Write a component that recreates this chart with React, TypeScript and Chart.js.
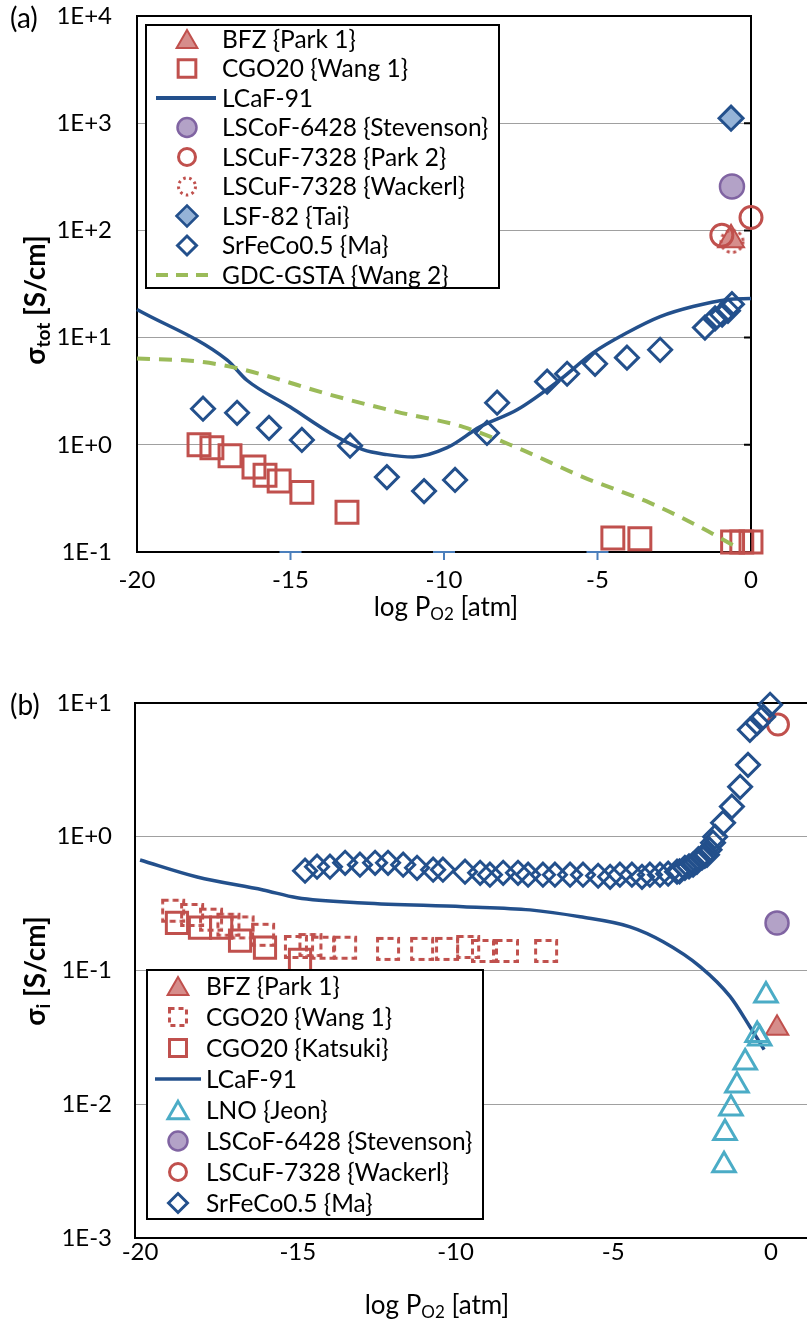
import React, { useEffect, useRef } from 'react';
import { Chart, registerables } from 'chart.js';

Chart.register(...registerables);

const FONT = 'Lato, "Open Sans", "DejaVu Sans", sans-serif';
const RED = '#C0504D';
const RED_FILL = 'rgba(204,112,110,0.8)';
const BLUE = '#23508C';
const LSF_FILL = '#95B3D7';
const PURPLE = '#8064A2';
const PURPLE_FILL = '#B3A2C7';
const GREEN = '#9BBB59';
const CYAN = '#4BACC6';
const GRID = '#A0A0A0';

// ---------------- Panel (a): total conductivity ----------------
const aTicksY = [0.1, 1, 10, 100, 1000, 10000];
const aTicksX = [-20, -15, -10, -5, 0];

const aBfzX = [-0.65];
const aBfzY = [82];

const aCgoWangX = [-17.98, -17.56, -16.97, -16.19, -15.83, -15.37, -14.63, -13.16, -4.5, -3.62, -0.6, -0.3, 0.0];
const aCgoWangY = [1.0, 0.94, 0.79, 0.62, 0.52, 0.46, 0.36, 0.235, 0.135, 0.133, 0.124, 0.124, 0.124];

const aLcafX = [-20, -17.07, -16.42, -15.02, -13.71, -12.64, -11.86, -11.01, -9.9, -8.83, -7.62, -6.22, -5.15, -4.04, -2.96, -1.89, -0.78, 0];
const aLcafY = [18.3, 6.2, 4.0, 2.26, 1.29, 0.9, 0.81, 0.77, 0.94, 1.47, 2.12, 4.05, 7.2, 11.1, 15.7, 19.5, 22.6, 23.1];

const aLscofX = [-0.62];
const aLscofY = [257];

const aLscufParkX = [-0.95, 0.0];
const aLscufParkY = [90, 132];

const aLscufWackerlX = [-0.62];
const aLscufWackerlY = [79];

const aLsfX = [-0.65];
const aLsfY = [1113];

const aSrfecoX = [-17.85, -16.74, -15.7, -14.63, -13.06, -11.86, -10.65, -9.64, -8.6, -8.27, -6.64, -5.99, -5.08, -4.04, -2.96, -1.5, -1.17, -0.94, -0.75, -0.62];
const aSrfecoY = [2.17, 1.99, 1.44, 1.11, 0.98, 0.5, 0.37, 0.47, 1.29, 2.47, 3.88, 4.6, 5.7, 6.5, 7.7, 12.4, 15.1, 16.4, 17.8, 20.5];

const aGdcX = [-20, -18.05, -16.97, -15.9, -13.71, -11.53, -9.38, -7.62, -5.47, -3.29, -1.66, -0.59];
const aGdcY = [6.4, 6.0, 5.36, 4.5, 2.93, 2.03, 1.47, 0.94, 0.5, 0.287, 0.171, 0.116];

// ---------------- Panel (b): ionic conductivity ----------------
const bTicksY = [0.001, 0.01, 0.1, 1, 10];
const bTicksX = [-20, -15, -10, -5, 0];

const bBfzX = [0.19];
const bBfzY = [0.037];

const bCgoWangX = [-18.95, -18.35, -17.75, -17.2, -16.75, -16.1, -15.06, -14.6, -14.2, -13.5, -12.14, -11.06, -10.27, -9.6, -9.13, -8.37, -7.13];
const bCgoWangY = [0.28, 0.26, 0.24, 0.22, 0.21, 0.185, 0.15, 0.155, 0.148, 0.148, 0.145, 0.145, 0.145, 0.15, 0.14, 0.14, 0.14];

const bCgoKatsukiX = [-18.83, -18.1, -17.43, -16.83, -16.04, -14.93];
const bCgoKatsukiY = [0.227, 0.209, 0.209, 0.167, 0.148, 0.12];

const bLcafX = [-20, -18.19, -16.1, -15.02, -12.93, -9.76, -7.64, -6.05, -4.47, -3.42, -2.25, -1.3, -0.67, -0.22];
const bLcafY = [0.67, 0.5, 0.4, 0.35, 0.32, 0.3, 0.284, 0.252, 0.212, 0.164, 0.107, 0.064, 0.038, 0.0256];

const bLnoX = [-0.16, -0.44, -0.36, -0.82, -1.08, -1.27, -1.46, -1.49];
const bLnoY = [0.065, 0.033, 0.031, 0.0205, 0.0138, 0.0093, 0.0061, 0.0035];

const bLscofX = [0.19];
const bLscofY = [0.227];

const bLscufWackerlX = [0.22];
const bLscufWackerlY = [6.9];

const bSrfecoX = [-14.77, -14.39, -13.98, -13.5, -13.03, -12.55, -12.14, -11.66, -11.22, -10.71, -10.4, -9.7, -9.22, -8.91, -8.49, -8.02, -7.7, -7.23, -6.85, -6.37, -5.96, -5.48, -5.1, -4.79, -4.41, -4.09, -3.84, -3.52, -3.26, -2.98, -2.9, -2.73, -2.6, -2.47, -2.35, -2.3, -2.19, -2.1, -2.03, -1.95, -1.84, -1.77, -1.52, -1.24, -0.98, -0.73, -0.67, -0.44, -0.25, -0.03];
const bSrfecoY = [0.557, 0.597, 0.597, 0.639, 0.618, 0.639, 0.639, 0.618, 0.586, 0.567, 0.567, 0.548, 0.538, 0.52, 0.538, 0.538, 0.52, 0.52, 0.52, 0.52, 0.52, 0.511, 0.502, 0.52, 0.52, 0.502, 0.52, 0.52, 0.529, 0.548, 0.55, 0.586, 0.6, 0.618, 0.65, 0.68, 0.697, 0.72, 0.733, 0.8, 0.902, 1.0, 1.27, 1.68, 2.36, 3.45, 6.3, 7.1, 7.9, 9.7];

// ---------------- helpers ----------------
const zip = (xs: number[], ys: number[]) => xs.map((x, i) => ({ x, y: ys[i] }));

function decadeLabel(v: number) {
  const e = Math.round(Math.log10(v));
  return '1E' + (e >= 0 ? '+' : '') + e;
}

function makeDashedSquare(side: number, lw: number, color: string, dash: number[]) {
  const c = document.createElement('canvas');
  const s = Math.ceil(side + lw + 2);
  c.width = s;
  c.height = s;
  const g = c.getContext('2d')!;
  g.strokeStyle = color;
  g.lineWidth = lw;
  g.setLineDash(dash);
  g.strokeRect((s - side) / 2, (s - side) / 2, side, side);
  return c;
}

function makeDottedCircle(r: number, lw: number, color: string, dash: number[]) {
  const c = document.createElement('canvas');
  const s = Math.ceil(2 * r + lw + 2);
  c.width = s;
  c.height = s;
  const g = c.getContext('2d')!;
  g.strokeStyle = color;
  g.lineWidth = lw;
  g.setLineDash(dash);
  g.beginPath();
  g.arc(s / 2, s / 2, r, 0, Math.PI * 2);
  g.stroke();
  return c;
}

type Part = { t: string; size: number; bold?: boolean; dy?: number };
function drawRich(ctx: CanvasRenderingContext2D, parts: Part[], cx: number, cy: number) {
  ctx.save();
  ctx.textBaseline = 'alphabetic';
  ctx.textAlign = 'left';
  ctx.fillStyle = '#000';
  const fontOf = (p: Part) => `${p.bold ? 'bold ' : ''}${p.size}px ${FONT}`;
  let total = 0;
  const widths = parts.map((p) => {
    ctx.font = fontOf(p);
    const w = ctx.measureText(p.t).width;
    total += w;
    return w;
  });
  let x = cx - total / 2;
  const base = cy + parts[0].size * 0.36;
  parts.forEach((p, i) => {
    ctx.font = fontOf(p);
    ctx.fillText(p.t, x, base + (p.dy || 0));
    x += widths[i];
  });
  ctx.restore();
}

type Entry = {
  label: string;
  kind: 'triangle' | 'rect' | 'rectRot' | 'circle' | 'line';
  stroke: string;
  fill?: string;
  lw: number;
  r?: number;
  dash?: number[];
};

function drawMarker(ctx: CanvasRenderingContext2D, e: Entry, x: number, y: number, lx1: number, lx2: number) {
  ctx.save();
  ctx.strokeStyle = e.stroke;
  ctx.lineWidth = e.lw;
  ctx.setLineDash(e.dash || []);
  ctx.beginPath();
  const r = e.r || 0;
  if (e.kind === 'line') {
    ctx.moveTo(lx1, y);
    ctx.lineTo(lx2, y);
    ctx.stroke();
    ctx.restore();
    return;
  }
  if (e.kind === 'triangle') {
    const yy = y + 0.25 * r;
    ctx.moveTo(x, yy - r);
    ctx.lineTo(x + 0.866 * r, yy + 0.5 * r);
    ctx.lineTo(x - 0.866 * r, yy + 0.5 * r);
    ctx.closePath();
  } else if (e.kind === 'rect') {
    const h = r * Math.SQRT1_2;
    ctx.rect(x - h, y - h, 2 * h, 2 * h);
  } else if (e.kind === 'rectRot') {
    ctx.moveTo(x - r, y);
    ctx.lineTo(x, y - r);
    ctx.lineTo(x + r, y);
    ctx.lineTo(x, y + r);
    ctx.closePath();
  } else if (e.kind === 'circle') {
    ctx.arc(x, y, r, 0, Math.PI * 2);
  }
  if (e.fill) {
    ctx.fillStyle = e.fill;
    ctx.fill();
  }
  ctx.stroke();
  ctx.restore();
}

type LegendCfg = {
  box: { x: number; y: number; w: number; h: number };
  markerX: number;
  textX: number;
  lineX1: number;
  lineX2: number;
  rowY0: number;
  rowStep: number;
  fontSize: number;
  entries: Entry[];
};

function drawLegend(ctx: CanvasRenderingContext2D, L: LegendCfg) {
  ctx.save();
  ctx.fillStyle = '#fff';
  ctx.fillRect(L.box.x, L.box.y, L.box.w, L.box.h);
  ctx.strokeStyle = '#000';
  ctx.lineWidth = 2;
  ctx.strokeRect(L.box.x, L.box.y, L.box.w, L.box.h);
  L.entries.forEach((e, i) => {
    const y = L.rowY0 + i * L.rowStep;
    drawMarker(ctx, e, L.markerX, y, L.lineX1, L.lineX2);
    ctx.fillStyle = '#000';
    ctx.font = `${L.fontSize}px ${FONT}`;
    ctx.textBaseline = 'middle';
    ctx.textAlign = 'left';
    ctx.fillText(e.label, L.textX, y + 1);
  });
  ctx.restore();
}

const legendA: LegendCfg = {
  box: { x: 146, y: 25, w: 353, h: 263 },
  markerX: 187,
  textX: 222,
  lineX1: 156,
  lineX2: 216,
  rowY0: 39,
  rowStep: 29.5,
  fontSize: 24.5,
  entries: [
    { label: 'BFZ {Park 1}', kind: 'triangle', stroke: RED, fill: RED_FILL, lw: 2, r: 12 },
    { label: 'CGO20 {Wang 1}', kind: 'rect', stroke: RED, lw: 3, r: 12.5 },
    { label: 'LCaF-91', kind: 'line', stroke: BLUE, lw: 4 },
    { label: 'LSCoF-6428 {Stevenson}', kind: 'circle', stroke: PURPLE, fill: PURPLE_FILL, lw: 2.5, r: 9.5 },
    { label: 'LSCuF-7328 {Park 2}', kind: 'circle', stroke: RED, lw: 3, r: 8.5 },
    { label: 'LSCuF-7328 {Wackerl}', kind: 'circle', stroke: RED, lw: 3, r: 8.5, dash: [2.5, 3.5] },
    { label: 'LSF-82 {Tai}', kind: 'rectRot', stroke: BLUE, fill: LSF_FILL, lw: 2.5, r: 10.5 },
    { label: 'SrFeCo0.5 {Ma}', kind: 'rectRot', stroke: BLUE, lw: 3, r: 9.5 },
    { label: 'GDC-GSTA {Wang 2}', kind: 'line', stroke: GREEN, lw: 4, dash: [12, 8] },
  ],
};

const legendB: LegendCfg = {
  box: { x: 147, y: 310, w: 336, h: 249 },
  markerX: 178,
  textX: 206,
  lineX1: 155,
  lineX2: 201,
  rowY0: 326,
  rowStep: 31,
  fontSize: 24.5,
  entries: [
    { label: 'BFZ {Park 1}', kind: 'triangle', stroke: RED, fill: RED_FILL, lw: 2, r: 12 },
    { label: 'CGO20 {Wang 1}', kind: 'rect', stroke: RED, lw: 3, r: 12, dash: [5, 4] },
    { label: 'CGO20 {Katsuki}', kind: 'rect', stroke: RED, lw: 3, r: 12 },
    { label: 'LCaF-91', kind: 'line', stroke: BLUE, lw: 3.5 },
    { label: 'LNO {Jeon}', kind: 'triangle', stroke: CYAN, lw: 3, r: 11.5 },
    { label: 'LSCoF-6428 {Stevenson}', kind: 'circle', stroke: PURPLE, fill: PURPLE_FILL, lw: 2.5, r: 9.5 },
    { label: 'LSCuF-7328 {Wackerl}', kind: 'circle', stroke: RED, lw: 3, r: 8.5 },
    { label: 'SrFeCo0.5 {Ma}', kind: 'rectRot', stroke: BLUE, lw: 3, r: 9.5 },
  ],
};

const tickFont = { family: FONT, size: 24 };

function pointSet(label: string, data: any[], style: any, radius: number, stroke: string, fill: string, lw: number) {
  return {
    label,
    data,
    showLine: false,
    pointStyle: style,
    pointRadius: radius,
    pointHoverRadius: radius,
    pointBorderWidth: lw,
    pointBorderColor: stroke,
    pointBackgroundColor: fill,
    borderColor: stroke,
    backgroundColor: fill,
    clip: false as any,
  };
}

function lineSet(label: string, data: any[], color: string, width: number, dash?: number[]) {
  return {
    label,
    data,
    showLine: true,
    pointRadius: 0,
    borderColor: color,
    backgroundColor: color,
    borderWidth: width,
    borderDash: dash || [],
    cubicInterpolationMode: 'monotone' as const,
    clip: false as any,
  };
}

function withOrder(sets: any[]) {
  return sets.map((s, i) => ({ ...s, order: -i }));
}

function xFit(h: number) {
  return (s: any) => {
    s.height = h;
    s.paddingLeft = 0;
    s.paddingRight = 0;
  };
}

function yFit(w: number) {
  return (s: any) => {
    s.width = w;
    s.paddingTop = 0;
    s.paddingBottom = 0;
  };
}

export default function App() {
  const refA = useRef<HTMLCanvasElement>(null);
  const refB = useRef<HTMLCanvasElement>(null);

  useEffect(() => {
    const dottedCircle = makeDottedCircle(11, 3, RED, [3, 3.5]);
    const dashedSquare = makeDashedSquare(21, 3, RED, [6, 4]);

    const pluginA = {
      id: 'panelA',
      beforeDatasetsDraw(chart: any) {
        const ctx: CanvasRenderingContext2D = chart.ctx;
        const { left, right, top, bottom } = chart.chartArea;
        ctx.save();
        ctx.strokeStyle = '#000';
        ctx.lineWidth = 2;
        ctx.strokeRect(left, top, right - left, bottom - top);
        const ys = chart.scales.y;
        ctx.beginPath();
        aTicksY.forEach((v) => {
          const py = ys.getPixelForValue(v);
          ctx.moveTo(right - 7, py);
          ctx.lineTo(right, py);
        });
        ctx.stroke();
        const xs = chart.scales.x;
        ctx.strokeStyle = '#4A7EBB';
        ctx.lineWidth = 2;
        ctx.beginPath();
        [-15, -10, -5].forEach((v) => {
          const px = xs.getPixelForValue(v);
          ctx.moveTo(px - 11, bottom);
          ctx.lineTo(px + 11, bottom);
          ctx.moveTo(px, bottom);
          ctx.lineTo(px, bottom + 8);
        });
        ctx.stroke();
        ctx.restore();
      },
      afterDraw(chart: any) {
        const ctx: CanvasRenderingContext2D = chart.ctx;
        drawLegend(ctx, legendA);
        drawRich(ctx, [{ t: 'log P', size: 26 }, { t: 'O2', size: 17, dy: 4 }, { t: ' [atm]', size: 26 }], 446, 607);
        ctx.save();
        ctx.translate(35, 300);
        ctx.rotate(-Math.PI / 2);
        drawRich(ctx, [{ t: 'σ', size: 28, bold: true }, { t: 'tot', size: 19, bold: true, dy: 5 }, { t: ' [S/cm]', size: 28, bold: true }], 0, 0);
        ctx.restore();
        ctx.save();
        ctx.font = `28px ${FONT}`;
        ctx.fillStyle = '#000';
        ctx.textBaseline = 'middle';
        ctx.textAlign = 'left';
        ctx.fillText('(a)', 10, 19);
        ctx.restore();
      },
    };

    const pluginB = {
      id: 'panelB',
      beforeDatasetsDraw(chart: any) {
        const ctx: CanvasRenderingContext2D = chart.ctx;
        const { left, right, top, bottom } = chart.chartArea;
        ctx.save();
        ctx.strokeStyle = '#000';
        ctx.lineWidth = 2;
        ctx.beginPath();
        ctx.moveTo(right, top);
        ctx.lineTo(left, top);
        ctx.lineTo(left, bottom);
        ctx.lineTo(right, bottom);
        ctx.stroke();
        ctx.restore();
      },
      afterDraw(chart: any) {
        const ctx: CanvasRenderingContext2D = chart.ctx;
        drawLegend(ctx, legendB);
        drawRich(ctx, [{ t: 'log P', size: 26 }, { t: 'O2', size: 17, dy: 4 }, { t: ' [atm]', size: 26 }], 437, 645);
        ctx.save();
        ctx.translate(35, 311);
        ctx.rotate(-Math.PI / 2);
        drawRich(ctx, [{ t: 'σ', size: 28, bold: true }, { t: 'i', size: 19, bold: true, dy: 5 }, { t: ' [S/cm]', size: 28, bold: true }], 0, 0);
        ctx.restore();
        ctx.save();
        ctx.font = `28px ${FONT}`;
        ctx.fillStyle = '#000';
        ctx.textBaseline = 'middle';
        ctx.textAlign = 'left';
        ctx.fillText('(b)', 10, 46);
        ctx.restore();
      },
    };

    const datasetsA = withOrder([
      pointSet('BFZ {Park 1}', zip(aBfzX, aBfzY), 'triangle', 15, RED, RED_FILL, 2),
      pointSet('CGO20 {Wang 1}', zip(aCgoWangX, aCgoWangY), 'rect', 15.5, RED, 'rgba(0,0,0,0)', 3),
      lineSet('LCaF-91', zip(aLcafX, aLcafY), BLUE, 3.5),
      pointSet('LSCoF-6428 {Stevenson}', zip(aLscofX, aLscofY), 'circle', 12, PURPLE, PURPLE_FILL, 2.5),
      pointSet('LSCuF-7328 {Park 2}', zip(aLscufParkX, aLscufParkY), 'circle', 11, RED, 'rgba(0,0,0,0)', 3),
      pointSet('LSCuF-7328 {Wackerl}', zip(aLscufWackerlX, aLscufWackerlY), dottedCircle, 11, RED, 'rgba(0,0,0,0)', 3),
      pointSet('LSF-82 {Tai}', zip(aLsfX, aLsfY), 'rectRot', 12, BLUE, LSF_FILL, 3),
      pointSet('SrFeCo0.5 {Ma}', zip(aSrfecoX, aSrfecoY), 'rectRot', 11.5, BLUE, 'rgba(0,0,0,0)', 3),
      lineSet('GDC-GSTA {Wang 2}', zip(aGdcX, aGdcY), GREEN, 4, [13, 9]),
    ]);

    const datasetsB = withOrder([
      pointSet('BFZ {Park 1}', zip(bBfzX, bBfzY), 'triangle', 13, RED, RED_FILL, 2),
      pointSet('CGO20 {Wang 1}', zip(bCgoWangX, bCgoWangY), dashedSquare, 15, RED, 'rgba(0,0,0,0)', 3),
      pointSet('CGO20 {Katsuki}', zip(bCgoKatsukiX, bCgoKatsukiY), 'rect', 15, RED, 'rgba(0,0,0,0)', 3),
      lineSet('LCaF-91', zip(bLcafX, bLcafY), BLUE, 3.5),
      pointSet('LNO {Jeon}', zip(bLnoX, bLnoY), 'triangle', 13, CYAN, 'rgba(0,0,0,0)', 3),
      pointSet('LSCoF-6428 {Stevenson}', zip(bLscofX, bLscofY), 'circle', 11.5, PURPLE, PURPLE_FILL, 2.5),
      pointSet('LSCuF-7328 {Wackerl}', zip(bLscufWackerlX, bLscufWackerlY), 'circle', 10.5, RED, 'rgba(0,0,0,0)', 3),
      pointSet('SrFeCo0.5 {Ma}', zip(bSrfecoX, bSrfecoY), 'rectRot', 11.5, BLUE, 'rgba(0,0,0,0)', 3),
    ]);

    const common = {
      responsive: false,
      maintainAspectRatio: false,
      animation: false as const,
      events: [] as any[],
      plugins: { legend: { display: false }, tooltip: { enabled: false } },
    };

    const chartA = new Chart(refA.current!, {
      type: 'scatter',
      data: { datasets: datasetsA as any },
      options: {
        ...common,
        layout: { autoPadding: false, padding: { left: 0, right: 56, top: 16, bottom: 0 } },
        scales: {
          x: {
            type: 'linear',
            min: -20,
            max: 0,
            afterBuildTicks: (s: any) => { s.ticks = aTicksX.map((v) => ({ value: v })); },
            afterFit: xFit(108),
            ticks: { font: tickFont, color: '#000', padding: 14, autoSkip: false, maxRotation: 0, callback: (v: any) => String(v) },
            grid: { display: false, drawTicks: false },
            border: { display: false },
          },
          y: {
            type: 'logarithmic',
            min: 0.1,
            max: 10000,
            afterBuildTicks: (s: any) => { s.ticks = aTicksY.map((v) => ({ value: v })); },
            afterFit: yFit(137),
            ticks: { font: tickFont, color: '#000', padding: 25, autoSkip: false, callback: (v: any) => decadeLabel(Number(v)) },
            grid: { color: GRID, lineWidth: 1, drawTicks: false },
            border: { display: false },
          },
        },
      } as any,
      plugins: [pluginA],
    });

    const chartB = new Chart(refB.current!, {
      type: 'scatter',
      data: { datasets: datasetsB as any },
      options: {
        ...common,
        layout: { autoPadding: false, padding: { left: 0, right: 0, top: 43, bottom: 0 } },
        scales: {
          x: {
            type: 'linear',
            min: -20.16,
            max: 1.14,
            afterBuildTicks: (s: any) => { s.ticks = bTicksX.map((v) => ({ value: v })); },
            afterFit: xFit(93),
            ticks: { font: tickFont, color: '#000', padding: 0, autoSkip: false, maxRotation: 0, callback: (v: any) => String(v) },
            grid: { display: false, drawTicks: false },
            border: { display: false },
          },
          y: {
            type: 'logarithmic',
            min: 0.001,
            max: 10,
            afterBuildTicks: (s: any) => { s.ticks = bTicksY.map((v) => ({ value: v })); },
            afterFit: yFit(135),
            ticks: { font: tickFont, color: '#000', padding: 23, autoSkip: false, callback: (v: any) => decadeLabel(Number(v)) },
            grid: { color: GRID, lineWidth: 1, drawTicks: false },
            border: { display: false },
          },
        },
      } as any,
      plugins: [pluginB],
    });

    return () => {
      chartA.destroy();
      chartB.destroy();
    };
  }, []);

  return (
    <div style={{ position: 'absolute', left: 0, top: 0, width: 807, height: 1331, background: '#fff', overflow: 'hidden' }}>
      <canvas ref={refA} width={807} height={660} style={{ position: 'absolute', left: 0, top: 0, width: 807, height: 660 }} />
      <canvas ref={refB} width={807} height={671} style={{ position: 'absolute', left: 0, top: 660, width: 807, height: 671 }} />
    </div>
  );
}
